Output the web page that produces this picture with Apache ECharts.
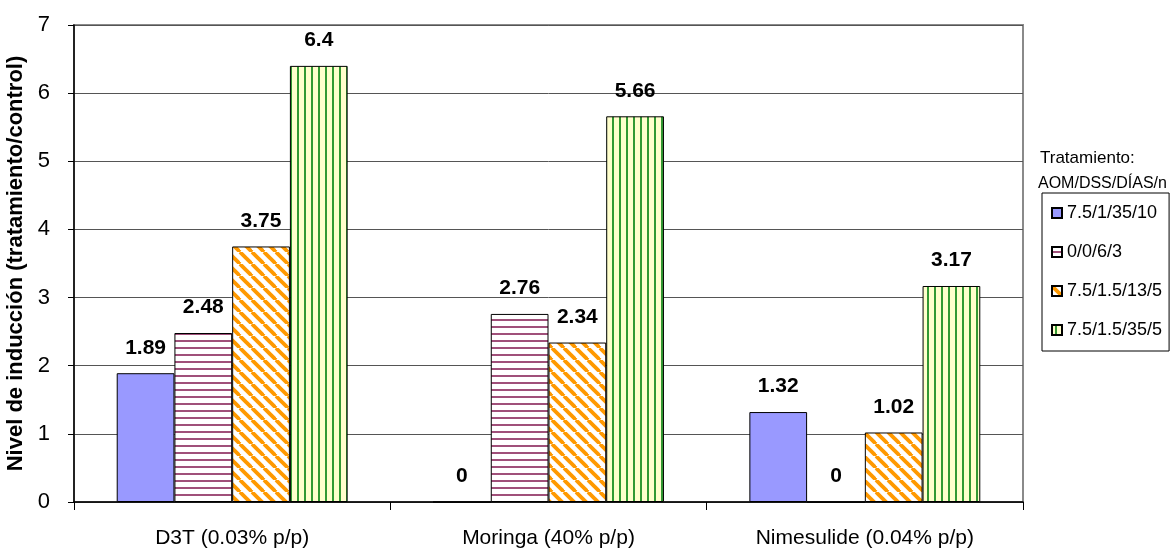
<!DOCTYPE html>
<html>
<head>
<meta charset="utf-8">
<script src="https://cdn.jsdelivr.net/npm/echarts@6/dist/echarts.min.js"></script>
<style>
  html, body { margin: 0; padding: 0; background: #fff; }
  #chart { width: 1171px; height: 557px; }
</style>
</head>
<body>
<div id="chart"></div>
<script>
// Treatment groups along the x axis
const categories = ['D3T (0.03% p/p)', 'Moringa (40% p/p)', 'Nimesulide (0.04% p/p)'];
// Legend entries: AOM/DSS/DÍAS/n
const seriesNames = ['7.5/1/35/10', '0/0/6/3', '7.5/1.5/13/5', '7.5/1.5/35/5'];
// Induction level (treatment/control) per series, one value per category
const s1 = [1.89, 0, 1.32];
const s2 = [2.48, 2.76, 0];
const s3 = [3.75, 2.34, 1.02];
const s4 = [6.4, 5.66, 3.17];
const yTicks = [0, 1, 2, 3, 4, 5, 6, 7];

const FONT = 'Liberation Sans, Arial, sans-serif';

function tile(w, h, draw) {
  const c = document.createElement('canvas');
  c.width = w; c.height = h;
  const ctx = c.getContext('2d');
  draw(ctx, w, h);
  return { image: c, repeat: 'repeat' };
}

// Horizontal maroon stripes on white
const hStripes = tile(8, 7, (ctx, w, h) => {
  ctx.fillStyle = '#ffffff'; ctx.fillRect(0, 0, w, h);
  ctx.fillStyle = '#a0507a'; ctx.fillRect(0, 4, w, 2);
});

// Diagonal orange stripes (top-left to bottom-right) on white
const dStripes = tile(12, 12, (ctx, w, h) => {
  ctx.fillStyle = '#ffffff'; ctx.fillRect(0, 0, w, h);
  ctx.strokeStyle = '#ff9900'; ctx.lineWidth = 3.8;
  for (let k = -2; k <= 2; k++) {
    ctx.beginPath();
    ctx.moveTo(k * w, 0);
    ctx.lineTo(k * w + w, h);
    ctx.stroke();
  }
});

// Vertical green stripes on pale yellow
const vStripes = tile(7, 8, (ctx, w, h) => {
  ctx.fillStyle = '#ffffcc'; ctx.fillRect(0, 0, w, h);
  ctx.fillStyle = '#339933'; ctx.fillRect(3, 0, 2, h);
});

const fills = ['#9999ff', hStripes, dStripes, vStripes];
const values = [s1, s2, s3, s4];

const chart = echarts.init(document.getElementById('chart'), null, { renderer: 'canvas' });

chart.setOption({
  backgroundColor: '#ffffff',
  animation: false,
  textStyle: { fontFamily: FONT },
  title: {
    text: '{a|Tratamiento:}\n{b|AOM/DSS/DÍAS/n}',
    left: 1038,
    top: 146,
    padding: 0,
    textStyle: {
      fontFamily: FONT, fontWeight: 'normal', color: '#000',
      rich: {
        a: { fontFamily: FONT, fontSize: 17, color: '#000', lineHeight: 25, padding: [0, 0, 0, 2] },
        b: { fontFamily: FONT, fontSize: 16, color: '#000', lineHeight: 25 }
      }
    }
  },
  legend: {
    orient: 'vertical',
    left: 1042,
    top: 193,
    padding: [11, 7, 12, 9],
    borderColor: '#000',
    borderWidth: 1,
    itemWidth: 10,
    itemHeight: 10,
    itemGap: 21,
    icon: 'rect',
    data: seriesNames,
    textStyle: { fontFamily: FONT, fontSize: 18, color: '#000' }
  },
  grid: {
    left: 74, right: 148, top: 25, bottom: 55,
    outerBoundsMode: 'none',
    containLabel: false,
    show: true,
    borderColor: '#8a8a8a',
    borderWidth: 2,
    backgroundColor: 'transparent'
  },
  xAxis: {
    type: 'category',
    data: categories,
    axisLine: { lineStyle: { color: '#000', width: 1.5 } },
    axisTick: { show: true, length: 8, lineStyle: { color: '#000', width: 1 } },
    axisLabel: { color: '#000', fontSize: 21, fontFamily: FONT, margin: 26 }
  },
  yAxis: {
    type: 'value',
    min: yTicks[0],
    max: yTicks[yTicks.length - 1],
    interval: 1,
    name: 'Nivel de inducción (tratamiento/control)',
    nameLocation: 'middle',
    nameGap: 47,
    nameTextStyle: { color: '#000', fontSize: 22, fontWeight: 'bold', fontFamily: FONT },
    axisLine: { show: true, lineStyle: { color: '#000', width: 1.5 } },
    axisTick: { show: true, length: 6, lineStyle: { color: '#000' } },
    axisLabel: { color: '#000', fontSize: 22, fontFamily: FONT, margin: 24 },
    splitLine: { lineStyle: { color: '#555', width: 1 } }
  },
  series: seriesNames.map((name, i) => ({
    name: name,
    type: 'bar',
    data: values[i],
    barGap: '0%',
    barCategoryGap: '27%',
    itemStyle: { color: fills[i], borderColor: '#000', borderWidth: 1 },
    label: {
      show: true,
      position: 'top',
      distance: 15,
      color: '#000',
      fontSize: 21,
      fontWeight: 'bold',
      fontFamily: FONT
    }
  }))
});
</script>
</body>
</html>
